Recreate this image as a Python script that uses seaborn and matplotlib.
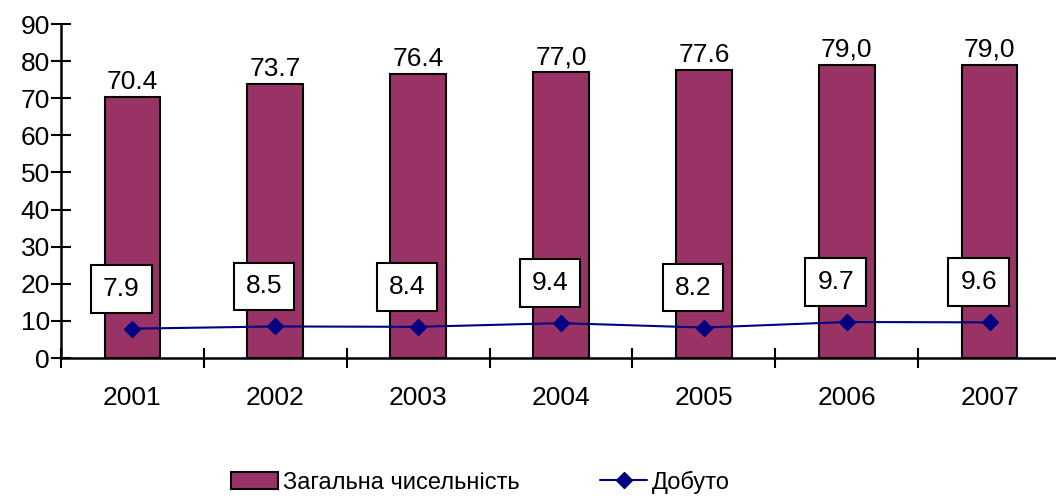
import pandas as pd
import seaborn as sns
import matplotlib.pyplot as plt
from matplotlib.patches import Patch
from matplotlib.lines import Line2D

# --- Дані ---
years = ["2001", "2002", "2003", "2004", "2005", "2006", "2007"]
total = [70.4, 73.7, 76.4, 77.0, 77.6, 79.0, 79.0]
total_labels = ["70.4", "73.7", "76.4", "77,0", "77.6", "79,0", "79,0"]
caught = [7.9, 8.5, 8.4, 9.4, 8.2, 9.7, 9.6]
caught_labels = ["7.9", "8.5", "8.4", "9.4", "8.2", "9.7", "9.6"]

BAR_COLOR = "#993366"
LINE_COLOR = "#000080"

df = pd.DataFrame({"year": years, "total": total, "caught": caught})

sns.set_style("white")
plt.rcParams["font.family"] = ["Liberation Sans", "DejaVu Sans"]
plt.rcParams["text.color"] = "black"
plt.rcParams["xtick.color"] = "black"
plt.rcParams["ytick.color"] = "black"

FS = 19

fig = plt.figure(figsize=(10.56, 4.97), dpi=100)
ax = fig.add_axes([61 / 1056, 139 / 497, 1000 / 1056, 334 / 497])

sns.barplot(data=df, x="year", y="total", color=BAR_COLOR, width=0.39,
            edgecolor="black", linewidth=1.5, saturation=1, ax=ax)
ax.plot(range(len(years)), df["caught"], color=LINE_COLOR, lw=1.5,
        marker="D", markersize=8, zorder=3)

# підписи над стовпцями
for i, (v, lab) in enumerate(zip(total, total_labels)):
    ax.annotate(lab, (i, v), xytext=(0, 3), textcoords="offset pixels",
                ha="center", va="bottom", fontsize=FS)

# підписи в рамках для лінії
for i, (v, lab) in enumerate(zip(caught, caught_labels)):
    ax.annotate(lab, (i, v), xytext=(-11, 40), textcoords="offset pixels",
                ha="center", va="center", fontsize=FS,
                bbox=dict(boxstyle="square,pad=0.45", fc="white", ec="black", lw=1.5))

ax.set_xlim(-0.5, 6.5)
ax.set_ylim(0, 90)
ax.set_yticks(range(0, 91, 10))
ax.set_xticks([i - 0.5 for i in range(len(years))])
ax.set_xticklabels([])
ax.set_xticks(range(len(years)), minor=True)
ax.set_xticklabels(years, minor=True)
ax.tick_params(axis="x", which="major", bottom=True, direction="inout",
               length=14, width=1.5, color="black")
ax.tick_params(axis="x", which="minor", bottom=True, length=0, pad=20, labelsize=FS)
ax.tick_params(axis="y", left=True, direction="inout", length=14, width=1.5,
               color="black", labelsize=FS, pad=1)
ax.set_xlabel("")
ax.set_ylabel("")

for s in ["top", "right"]:
    ax.spines[s].set_visible(False)
for s in ["left", "bottom"]:
    ax.spines[s].set_color("black")
    ax.spines[s].set_linewidth(1.8)

handles = [
    Patch(facecolor=BAR_COLOR, edgecolor="black", linewidth=1.5, label="Загальна чисельність"),
    Line2D([0], [0], color=LINE_COLOR, lw=1.5, marker="D", markersize=8, label="Добуто"),
]
fig.legend(handles=handles, loc="center", bbox_to_anchor=(0.455, 0.03), ncol=2,
           frameon=False, fontsize=17, handlelength=2.0, handleheight=0.75,
           handletextpad=0.2, columnspacing=3.4)

fig.savefig("out.png", dpi=100)
